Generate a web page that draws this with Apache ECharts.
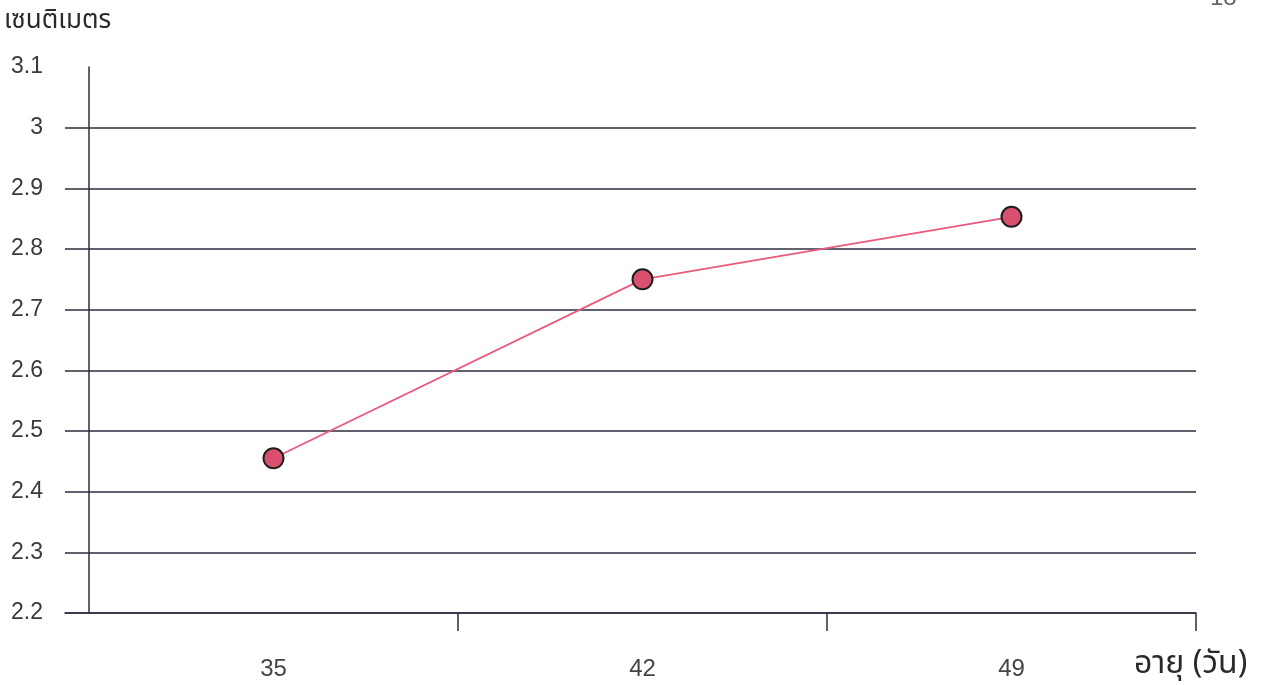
<!DOCTYPE html>
<html><head><meta charset="utf-8">
<script src="https://cdn.jsdelivr.net/npm/echarts@6/dist/echarts.min.js"></script>
<style>html,body{margin:0;padding:0;background:#fff}#c{width:1262px;height:685px}</style>
</head><body><div id="c"></div>
<script>
const categories = ['35', '42', '49'];
const values = [2.455, 2.75, 2.853];
const yTicks = { min: 2.2, max: 3.1, interval: 0.1 };
const yTitle = 'เซนติเมตร';
const xTitle = 'อายุ (วัน)';

const font = 'Liberation Sans, Arial, Noto Sans, sans-serif';
const lineCol = '#2e2e3e';
const chart = echarts.init(document.getElementById('c'));
chart.setOption({
  animation: false,
  backgroundColor: '#ffffff',
  grid: [
    { left: 89, right: 66, top: 67, bottom: 72 },
    { left: 65, width: 24, top: 67, bottom: 72 }
  ],
  graphic: [
    { type: 'text', left: 4, top: 8, style: { text: yTitle, fontSize: 26, fill: '#2a2a2a', fontFamily: 'Noto Sans, Noto Sans Thai, sans-serif' } },
    { type: 'text', left: 1134, top: 648, style: { text: xTitle, fontSize: 32, fill: '#2a2a2a', fontFamily: 'Noto Sans, Noto Sans Thai, sans-serif' } },
    { type: 'text', left: 1210, top: -14, style: { text: '18', fontSize: 24, fill: '#666', fontFamily: font } }
  ],
  xAxis: [
    {
      type: 'category', gridIndex: 0, data: categories, boundaryGap: true,
      axisLine: { show: true, lineStyle: { color: lineCol, width: 1.5 } },
      axisTick: { show: true, length: 18, interval: (i) => i !== 0, lineStyle: { color: lineCol, width: 1.5 } },
      axisLabel: { margin: 44, fontSize: 24, color: '#444', fontFamily: font }
    },
    {
      type: 'category', gridIndex: 1, data: [''],
      axisLine: { show: true, lineStyle: { color: lineCol, width: 1.5 } },
      axisTick: { show: false }, axisLabel: { show: false }
    }
  ],
  yAxis: [
    {
      type: 'value', gridIndex: 0, min: yTicks.min, max: yTicks.max, interval: yTicks.interval,
      axisLine: { show: true, lineStyle: { color: lineCol, width: 1.5 } },
      axisTick: { show: false },
      axisLabel: { margin: 46, fontSize: 23, color: '#3a3a3a', fontFamily: font,
        formatter: v => String(Math.round(v * 10) / 10) },
      splitLine: { show: true, showMaxLine: false, lineStyle: { color: lineCol, width: 1.5 } }
    },
    {
      type: 'value', gridIndex: 1, min: yTicks.min, max: yTicks.max, interval: yTicks.interval,
      axisLine: { show: false }, axisTick: { show: false }, axisLabel: { show: false },
      splitLine: { show: true, showMaxLine: false, lineStyle: { color: lineCol, width: 1.5 } }
    }
  ],
  series: [{
    type: 'line', xAxisIndex: 0, yAxisIndex: 0, data: values,
    symbol: 'circle', symbolSize: 20,
    lineStyle: { color: '#ea5a7c', width: 1.8 },
    itemStyle: { color: '#d9506e', borderColor: '#1e1e1e', borderWidth: 2 }
  }]
});
</script></body></html>
